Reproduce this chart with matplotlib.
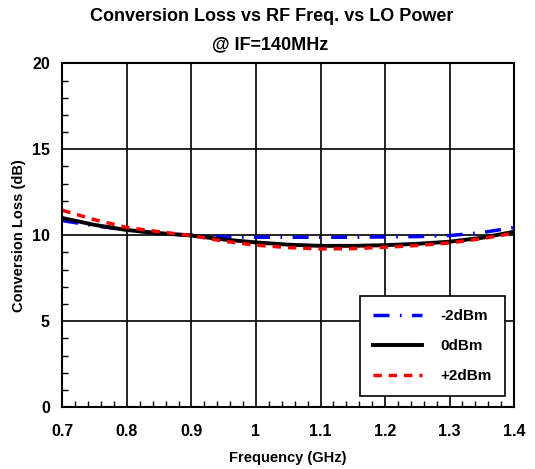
import numpy as np
import matplotlib.pyplot as plt
from matplotlib.ticker import MultipleLocator

plt.rcParams['font.family'] = ['Liberation Sans', 'DejaVu Sans']
plt.rcParams['font.weight'] = 'bold'

# 数据
freq = [0.70, 0.75, 0.80, 0.85, 0.90, 0.95, 1.00, 1.05, 1.10, 1.15, 1.20, 1.25, 1.30, 1.35, 1.40]
loss_m2 = [10.85, 10.55, 10.30, 10.10, 10.00, 9.90, 9.88, 9.88, 9.88, 9.88, 9.90, 9.92, 9.98, 10.15, 10.45]
loss_0 = [11.00, 10.60, 10.30, 10.12, 9.98, 9.75, 9.58, 9.45, 9.38, 9.38, 9.42, 9.50, 9.62, 9.85, 10.20]
loss_p2 = [11.45, 10.90, 10.45, 10.20, 9.98, 9.65, 9.42, 9.28, 9.20, 9.22, 9.30, 9.40, 9.55, 9.80, 10.12]
labels = ['-2dBm', '0dBm', '+2dBm']

fig = plt.figure(figsize=(5.35, 4.69), dpi=100)
ax = fig.add_axes([0.1165, 0.132, 0.8445, 0.733])

ax.plot(freq, loss_m2, color='#0000ff', lw=2.5, dashes=(4.6, 3.0, 0.5, 3.0), label=labels[0])
ax.plot(freq, loss_0, color='black', lw=2.8, label=labels[1])
ax.plot(freq, loss_p2, color='#ff0000', lw=2.5, dashes=(2.4, 2.0), label=labels[2])

ax.set_xlim(0.7, 1.4)
ax.set_ylim(0, 20)
ax.xaxis.set_minor_locator(MultipleLocator(0.02))
ax.yaxis.set_major_locator(MultipleLocator(5))
ax.yaxis.set_minor_locator(MultipleLocator(1))
ax.set_xticks(np.arange(0.7, 1.41, 0.1))
ax.set_xticklabels(['0.7', '0.8', '0.9', '1', '1.1', '1.2', '1.3', '1.4'])
ax.tick_params(which='major', length=0, labelsize=11.5)
ax.tick_params(axis='x', which='major', pad=12)
ax.tick_params(axis='y', which='major', pad=9)
ax.tick_params(which='minor', direction='in', length=4, width=1, color='black')
for lab in ax.get_xticklabels() + ax.get_yticklabels():
    lab.set_fontweight('bold')
ax.grid(True, which='major', color='black', lw=1.2)
for s in ax.spines.values():
    s.set_linewidth(1.5)

ax.set_xlabel('Frequency (GHz)', fontsize=10.5, fontweight='bold')
ax.set_ylabel('Conversion Loss (dB)', fontsize=10.5, fontweight='bold')
ax.xaxis.set_label_coords(0.5, -0.127)
ax.yaxis.set_label_coords(-0.08, 0.5)
fig.text(0.508, 0.965, 'Conversion Loss vs RF Freq. vs LO Power', ha='center', va='center',
         fontsize=13, fontweight='bold')
fig.text(0.505, 0.905, '@ IF=140MHz', ha='center', va='center', fontsize=13, fontweight='bold')

leg = ax.legend(loc='lower right', bbox_to_anchor=(0.979, 0.032), borderaxespad=0,
                frameon=True, fancybox=False, edgecolor='black', framealpha=1, fontsize=11,
                handlelength=3.2, labelspacing=1.05, borderpad=0.85, handletextpad=1.2)
leg.get_frame().set_linewidth(1.2)
for t in leg.get_texts():
    t.set_fontweight('bold')

fig.savefig('out.png', dpi=100)
